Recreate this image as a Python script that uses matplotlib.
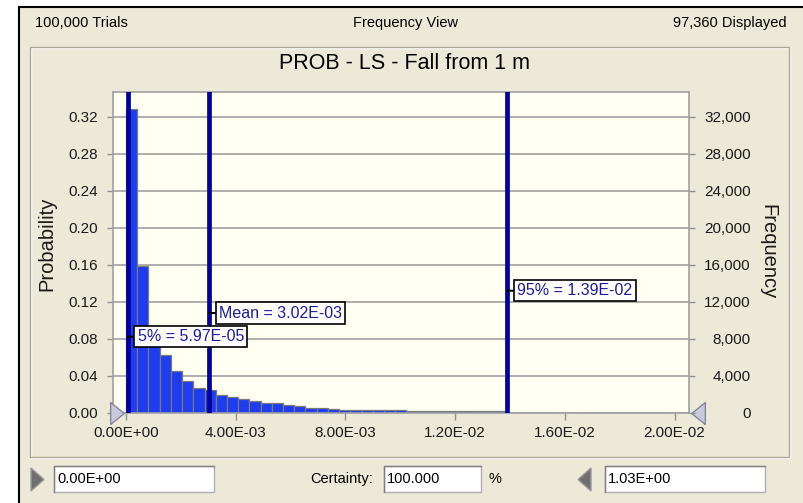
import numpy as np
import matplotlib.pyplot as plt
from matplotlib.patches import Rectangle, Polygon
from matplotlib.ticker import FuncFormatter
from matplotlib.transforms import offset_copy

plt.rcParams['font.family'] = ['Liberation Sans', 'DejaVu Sans']

# histogram: probability per bin, bins start at 0
bin_width = 0.000409
probability = [0.328, 0.159, 0.088, 0.062, 0.045, 0.034, 0.027, 0.024,
               0.019, 0.017, 0.015, 0.012, 0.010, 0.010, 0.0085, 0.0065,
               0.0045, 0.0045, 0.0042, 0.0029, 0.0029, 0.0029, 0.0029,
               0.0029, 0.0029, 0.0015, 0.0015, 0.0015, 0.0015, 0.0015,
               0.0015, 0.0015, 0.0015, 0.0015]
trials = 100000

marker_names = ['5%', 'Mean', '95%']
marker_values = [5.97e-05, 3.02e-03, 1.39e-02]
marker_label_y = [0.082, 0.1076, 0.1317]

x_ticks = [0.0, 0.004, 0.008, 0.012, 0.016, 0.020]
prob_ticks = [0.00, 0.04, 0.08, 0.12, 0.16, 0.20, 0.24, 0.28, 0.32]
freq_ticks = [0, 4000, 8000, 12000, 16000, 20000, 24000, 28000, 32000]

header_left = '100,000 Trials'
header_mid = 'Frequency View'
header_right = '97,360 Displayed'
title = 'PROB - LS - Fall from 1 m'
lower_value = '0.00E+00'
certainty = '100.000'
upper_value = '1.03E+00'

BEIGE = '#ECE9D8'
W, H = 804, 503

fig = plt.figure(figsize=(W / 100, H / 100), dpi=100, facecolor='white')

# background "window" drawn in pixel coords
bg = fig.add_axes([0, 0, 1, 1])
bg.set_xlim(0, W)
bg.set_ylim(H, 0)
bg.axis('off')
bg.add_patch(Rectangle((19, 7), W, H, fc=BEIGE, ec='none'))
bg.plot([19, 19], [7, H], color='black', lw=1.5)
bg.plot([19, W], [7, 7], color='black', lw=1.5)
bg.add_patch(Rectangle((31, 48), 759, 410, fill=False, ec='white', lw=1))
bg.add_patch(Rectangle((30, 47), 759, 410, fill=False, ec='#ACA899', lw=1))

bg.text(35, 23, header_left, ha='left', va='center', fontsize=10.5)
bg.text(406, 23, header_mid, ha='center', va='center', fontsize=10.5)
bg.text(787, 23, header_right, ha='right', va='center', fontsize=10.5)
bg.text(405, 63, title, ha='center', va='center', fontsize=15.5)

# bottom controls
for x0, w in [(54, 160), (384, 97), (605, 160)]:
    bg.add_patch(Rectangle((x0, 466), w, 26, fc='white', ec='#B0B0B0', lw=1))
    bg.plot([x0, x0, x0 + w], [492, 466, 466], color='#808080', lw=1)
bg.add_patch(Polygon([(31, 468), (44, 479.5), (31, 491)], fc='#6F6F6F', ec='#9A9A9A'))
bg.add_patch(Polygon([(591, 468), (578, 479.5), (591, 491)], fc='#6F6F6F', ec='#9A9A9A'))
bg.text(57, 479, lower_value, ha='left', va='center', fontsize=10.5)
bg.text(373, 479, 'Certainty:', ha='right', va='center', fontsize=10.5)
bg.text(387, 479, certainty, ha='left', va='center', fontsize=10.5)
bg.text(495, 479, '%', ha='center', va='center', fontsize=10.5)
bg.text(608, 479, upper_value, ha='left', va='center', fontsize=10.5)

# main chart
ax = fig.add_axes([112.7 / W, (H - 412.5) / H, 576.6 / W, 320.8 / H])
ax.set_facecolor('#FFFFF2')
ax.set_xlim(-0.000485, 0.020538)
ax.set_ylim(0, 0.347)

left_edges = np.arange(len(probability)) * bin_width
ax.bar(left_edges, probability, width=bin_width, align='edge',
       color='#1E3CF0', edgecolor='#7A7A7A', linewidth=0.9, zorder=2)

for name, v, y in zip(marker_names, marker_values, marker_label_y):
    ax.axvline(v, color='#00009C', lw=3.4, zorder=3)
    ax.annotate(f'{name} = {v:.2E}', xy=(v, y), xytext=(10, 0),
                textcoords='offset pixels', ha='left', va='center',
                fontsize=11.5, color='#1C1C9A', zorder=5,
                bbox=dict(boxstyle='square,pad=0.2', fc='white', ec='black', lw=1.2),
                arrowprops=dict(arrowstyle='-', color='black', lw=1.5,
                                shrinkA=0, shrinkB=0))

ax.set_yticks(prob_ticks)
ax.yaxis.grid(True, color='#A8A8A8', lw=1.3)
ax.set_axisbelow(True)
ax.yaxis.set_major_formatter(FuncFormatter(lambda v, p: f'{v:.2f}'))
ax.set_xticks(x_ticks)
ax.xaxis.set_major_formatter(FuncFormatter(lambda v, p: f'{v:.2E}'))
ax.tick_params(axis='y', length=4.3, width=1, color='#909090', pad=6.5,
               labelsize=11, labelcolor='#1A1A1A')
ax.tick_params(axis='x', length=5, width=1, color='#909090', pad=5,
               labelsize=11, labelcolor='#1A1A1A')
for s in ax.spines.values():
    s.set_color('#A0A0A0')
    s.set_linewidth(1.2)

ax.set_ylabel('Probability', fontsize=14.5, va='center', color='#1A1A1A')
ax.yaxis.set_label_coords((47 - 112.7) / 576.6, (412.5 - 243.5) / 320.8)

ax2 = ax.twinx()
ax2.set_ylim(0, 0.347 * trials)
ax2.set_yticks(freq_ticks)
ax2.yaxis.set_major_formatter(FuncFormatter(lambda v, p: f'{v:,.0f}'))
ax2.tick_params(axis='y', length=4.3, width=1, color='#909090', pad=40,
                labelsize=11, labelcolor='#1A1A1A')
plt.setp(ax2.get_yticklabels(), ha='right')
for s in ax2.spines.values():
    s.set_visible(False)
ax2.set_ylabel('Frequency', fontsize=14.5, rotation=270, va='center', color='#1A1A1A')
ax2.yaxis.set_label_coords((767.5 - 112.7) / 576.6, (412.5 - 251.7) / 320.8)

# range handles at the ends of the axis
handle_r = [(-1, -1.6), (1, 0), (-1, 1.6), (-1, -1.6)]
handle_l = [(1, -1.6), (-1, 0), (1, 1.6), (1, -1.6)]
ax.plot([x_ticks[0]], [0], marker=handle_r, ms=15.8, mfc='#C9C9DE', mec='#85859C',
        clip_on=False, zorder=6,
        transform=offset_copy(ax.transData, fig=fig, x=-9, y=0, units='dots'))
ax.plot([x_ticks[-1]], [0], marker=handle_l, ms=15.8, mfc='#C9C9DE', mec='#85859C',
        clip_on=False, zorder=6,
        transform=offset_copy(ax.transData, fig=fig, x=23, y=0, units='dots'))

fig.savefig('out.png', dpi=100, facecolor=fig.get_facecolor())
